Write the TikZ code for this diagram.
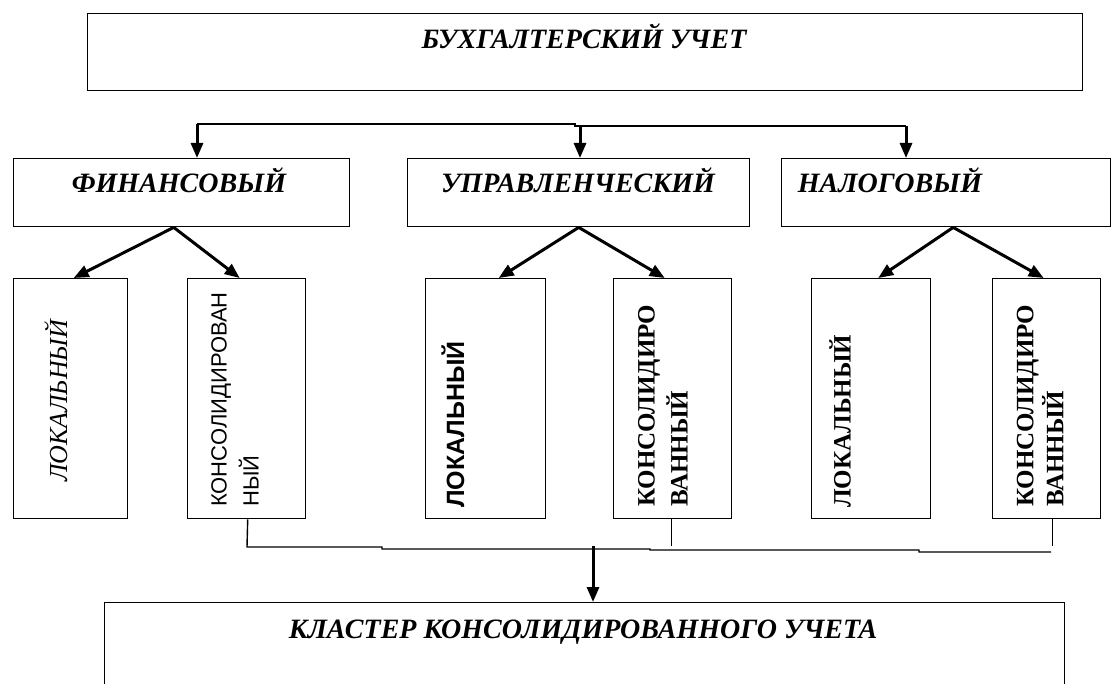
\documentclass[tikz,border=0pt]{standalone}
\usepackage{fontspec}
\setmainfont{Liberation Serif}
\setsansfont{Liberation Sans}
\usetikzlibrary{arrows.meta}
\begin{document}
\begin{tikzpicture}[x=1pt,y=-1pt,
  box/.style={draw,line width=1.4pt,inner sep=0pt,anchor=north west},
  hd/.style={font=\fontsize{28}{30}\selectfont\bfseries\itshape,inner sep=0pt,anchor=base},
  vt/.style={rotate=90,inner sep=0pt,align=left},
  ar/.style={line width=3pt,-{Triangle[length=15pt,width=12pt]}},
  ln/.style={line width=1.4pt}]
\useasboundingbox (0,0) rectangle (1111,684);
% boxes
\node[box,minimum width=995pt,minimum height=77pt] (acc) at (87,13) {};
\node[box,minimum width=336pt,minimum height=68pt] (fin) at (13,158) {};
\node[box,minimum width=342pt,minimum height=68pt] (man) at (407,158) {};
\node[box,minimum width=329pt,minimum height=68pt] (tax) at (781,158) {};
\node[box,minimum width=114pt,minimum height=240pt] (b1) at (13,278) {};
\node[box,minimum width=118pt,minimum height=240pt] (b2) at (187,278) {};
\node[box,minimum width=120pt,minimum height=240pt] (b3) at (425,278) {};
\node[box,minimum width=118pt,minimum height=240pt] (b4) at (613,278) {};
\node[box,minimum width=119pt,minimum height=240pt] (b5) at (811,278) {};
\node[box,minimum width=108pt,minimum height=240pt] (b6) at (992,278) {};
\node[box,minimum width=960pt,minimum height=100pt] (clu) at (104,602) {};
% texts
\node[hd] (tacc) at (584,49) {БУХГАЛТЕРСКИЙ УЧЕТ};
\node[hd] (tfin) at (179,193) {ФИНАНСОВЫЙ};
\node[hd] (tman) at (578,193) {УПРАВЛЕНЧЕСКИЙ};
\node[hd] (ttax) at (890,193) {НАЛОГОВЫЙ};
\node[hd] (tclu) at (583,638) {КЛАСТЕР КОНСОЛИДИРОВАННОГО УЧЕТА};
\node[vt,anchor=west,font=\fontsize{26}{30}\selectfont\itshape] (t1) at (56,482) {ЛОКАЛЬНЫЙ};
\node[vt,anchor=west,font=\sffamily\fontsize{22}{32}\selectfont] (t2) at (235,507) {КОНСОЛИДИРОВАН\\НЫЙ};
\node[vt,anchor=west,font=\sffamily\bfseries\fontsize{25}{30}\selectfont] (t3) at (453,508) {ЛОКАЛЬНЫЙ};
\node[vt,anchor=west,font=\bfseries\fontsize{25}{33}\selectfont] (t4) at (663,507) {КОНСОЛИДИРО\\ВАННЫЙ};
\node[vt,anchor=west,font=\bfseries\fontsize{25}{30}\selectfont] (t5) at (840,508) {ЛОКАЛЬНЫЙ};
\node[vt,anchor=west,font=\bfseries\fontsize{25}{30}\selectfont] (t6) at (1040,507) {КОНСОЛИДИРО\\ВАННЫЙ};
% top connector
\coordinate (h1) at (197,124);
\coordinate (h2) at (580,125);
\coordinate (h3) at (906,126);
\draw[ln] (h1) -- (575,124) -- (575,126) -- (h3);
\draw[ar] (h1) -- (h1 |- fin.north);
\draw[ar] (h2) -- (h2 |- man.north);
\draw[ar] (h3) -- (h3 |- tax.north);
% diagonal arrows
\draw[ar] ([xshift=-8pt]fin.south) -- ([xshift=3pt]b1.north);
\draw[ar] ([xshift=-8pt]fin.south) -- ([xshift=-7pt]b2.north);
\draw[ar] (man.south) -- ([xshift=13pt]b3.north);
\draw[ar] (man.south) -- ([xshift=-8pt]b4.north);
\draw[ar] ([xshift=7pt]tax.south) -- ([xshift=7pt]b5.north);
\draw[ar] ([xshift=7pt]tax.south) -- ([xshift=-3pt]b6.north);
% bottom connector
\coordinate (c2) at (247,547);
\coordinate (cj) at (593,549);
\draw[ln] ([xshift=1pt]b2.south) -- (c2) -- (382,547) -- (382,549) -- (650,549) -- (650,550) -- (919,550) -- (919,552) -- (1051,552);
\draw[ln] ([xshift=-1pt]b4.south) -- ++(0,27);
\draw[ln] ([xshift=6pt]b6.south) -- ++(0,27);
\draw[ar] ([yshift=3pt]cj) -- (cj |- clu.north);
\end{tikzpicture}
\end{document}
